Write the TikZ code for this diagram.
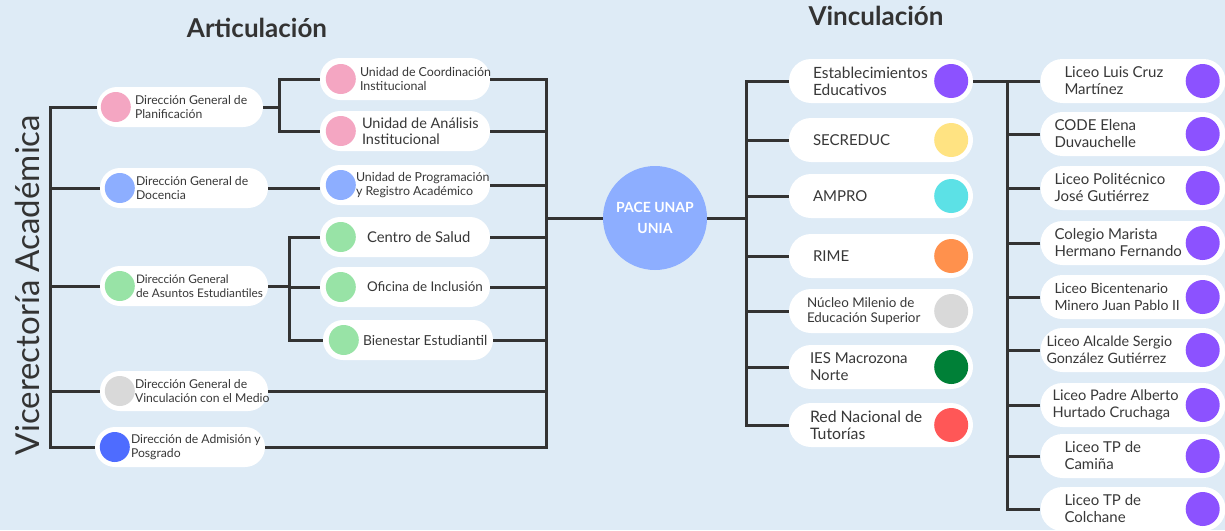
\documentclass[tikz,border=0pt]{standalone}
\usepackage{fontspec}
\setmainfont{Lato}
\usetikzlibrary{positioning}

\definecolor{bg}{HTML}{DEEBF6}
\definecolor{ink}{HTML}{333333}
\definecolor{inkt}{HTML}{383838}
\definecolor{pinkc}{HTML}{F4A6C2}
\definecolor{bluec}{HTML}{8DAEFF}
\definecolor{greenc}{HTML}{98E3A6}
\definecolor{grayc}{HTML}{D9D9D9}
\definecolor{royalc}{HTML}{4E6CFF}
\definecolor{purplec}{HTML}{8C52FF}
\definecolor{yellowc}{HTML}{FFE382}
\definecolor{cyanc}{HTML}{5CE1E6}
\definecolor{orangec}{HTML}{FF914D}
\definecolor{dgreenc}{HTML}{008037}
\definecolor{redc}{HTML}{FF5757}

\tikzset{
  pill/.style={fill=white, rounded corners=20pt, minimum width=168pt, minimum height=40pt, inner sep=0pt},
  bigpill/.style={fill=white, rounded corners=22pt, minimum width=184pt, minimum height=44pt, inner sep=0pt},
  dot/.style={circle, inner sep=0pt, minimum size=30pt},
  bigdot/.style={circle, inner sep=0pt, minimum size=34pt},
  txt/.style={anchor=west, align=left, text=inkt, inner sep=0pt, font=\fontsize{12.2}{14}\selectfont},
  bigtxt/.style={txt, font=\fontsize{15}{17}\selectfont},
  title/.style={font=\bfseries\fontsize{26}{28}\selectfont, text=ink},
  link/.style={draw=ink, line width=3pt}
}

\begin{document}
\begin{tikzpicture}[x=1pt, y=-1pt]
  \useasboundingbox (0,0) rectangle (1225,530);
  \clip (0,0) rectangle (1225,530);
  \fill[bg] (0,0) rectangle (1225,530);

  % titles
  \node[title] (arttitle) at (257,28) {Articulación};
  \node[title] (vintitle) at (876,16) {Vinculación};
  \node[rotate=90, font=\fontsize{33}{36}\selectfont, text=ink] (vicerrect) at (27,285) {Vicerectoría Académica};

  % first level (left)
  \node[pill, minimum width=166pt] (planif) at (180,107) {};
  \node[dot, fill=pinkc] (planif-dot) at ([xshift=19pt]planif.west) {};
  \node[txt] (planif-txt) at ([xshift=38pt]planif.west) {Dirección General de\\Planificación};

  \node[pill] (docencia) at (184,188) {};
  \node[dot, fill=bluec] (docencia-dot) at ([xshift=20pt]docencia.west) {};
  \node[txt] (docencia-txt) at ([xshift=36pt]docencia.west) {Dirección General de\\Docencia};

  \node[pill] (asuntos) at (184,286) {};
  \node[dot, fill=greenc] (asuntos-dot) at ([xshift=20pt]asuntos.west) {};
  \node[txt, font=\fontsize{11.8}{14}\selectfont] (asuntos-txt) at ([xshift=36pt]asuntos.west) {Dirección General\\de Asuntos Estudiantiles};

  \node[pill] (medio) at (184,391) {};
  \node[dot, fill=grayc] (medio-dot) at ([xshift=20pt]medio.west) {};
  \node[txt] (medio-txt) at ([xshift=35pt]medio.west) {Dirección General de\\Vinculación con el Medio};

  \node[pill, minimum width=170pt] (admision) at (180,447) {};
  \node[dot, fill=royalc] (admision-dot) at ([xshift=20pt]admision.west) {};
  \node[txt] (admision-txt) at ([xshift=36pt]admision.west) {Dirección de Admisión y\\Posgrado};

  % second level (left)
  \node[pill, minimum width=170pt, minimum height=42pt] (coord) at (405,79) {};
  \node[dot, fill=pinkc] (coord-dot) at ([xshift=21pt]coord.west) {};
  \node[txt, font=\fontsize{12.4}{14}\selectfont] (coord-txt) at ([xshift=40pt]coord.west) {Unidad de Coordinación\\Institucional};

  \node[pill, minimum width=170pt] (anal) at (405,131) {};
  \node[dot, fill=pinkc] (anal-dot) at ([xshift=21pt]anal.west) {};
  \node[txt, font=\fontsize{14.5}{16}\selectfont] (anal-txt) at ([xshift=42pt]anal.west) {Unidad de Análisis\\Institucional};

  \node[pill, minimum width=170pt] (prog) at (405,185) {};
  \node[dot, fill=bluec] (prog-dot) at ([xshift=21pt]prog.west) {};
  \node[txt, font=\fontsize{12.4}{14}\selectfont] (prog-txt) at ([xshift=36pt]prog.west) {Unidad de Programación\\y Registro Académico};

  \node[pill, minimum width=170pt] (salud) at (405,237) {};
  \node[dot, fill=greenc] (salud-dot) at ([xshift=21pt]salud.west) {};
  \node[txt, font=\fontsize{14.8}{16}\selectfont] (salud-txt) at ([xshift=47pt]salud.west) {Centro de Salud};

  \node[pill, minimum width=170pt] (incl) at (405,287) {};
  \node[dot, fill=greenc] (incl-dot) at ([xshift=21pt]incl.west) {};
  \node[txt, font=\fontsize{13.4}{16}\selectfont] (incl-txt) at ([xshift=47pt]incl.west) {Oficina de Inclusión};

  \node[pill, minimum width=170pt] (bien) at (408,340) {};
  \node[dot, fill=greenc] (bien-dot) at ([xshift=21pt]bien.west) {};
  \node[txt, font=\fontsize{13.8}{16}\selectfont] (bien-txt) at ([xshift=40pt]bien.west) {Bienestar Estudiantil};

  % centre
  \node[circle, fill=bluec, minimum size=104pt, inner sep=0pt, text=white, align=center,
    font=\bfseries\fontsize{14}{21}\selectfont] (pace) at (655,218) {PACE UNAP\\UNIA};

  % vinculacion
  \node[bigpill] (establ) at (881,81) {};
  \node[bigdot, fill=purplec] (establ-dot) at ([xshift=-22pt]establ.east) {};
  \node[bigtxt, font=\fontsize{15.5}{17}\selectfont] (establ-txt) at ([xshift=24pt]establ.west) {Establecimientos\\Educativos};

  \node[bigpill] (secreduc) at (881,140) {};
  \node[bigdot, fill=yellowc] (secreduc-dot) at ([xshift=-22pt]secreduc.east) {};
  \node[bigtxt] (secreduc-txt) at ([xshift=24pt]secreduc.west) {SECREDUC};

  \node[bigpill] (ampro) at (881,196) {};
  \node[bigdot, fill=cyanc] (ampro-dot) at ([xshift=-22pt]ampro.east) {};
  \node[bigtxt] (ampro-txt) at ([xshift=24pt]ampro.west) {AMPRO};

  \node[bigpill] (rime) at (881,256) {};
  \node[bigdot, fill=orangec] (rime-dot) at ([xshift=-22pt]rime.east) {};
  \node[bigtxt] (rime-txt) at ([xshift=24pt]rime.west) {RIME};

  \node[bigpill] (nucleo) at (881,311) {};
  \node[bigdot, fill=grayc] (nucleo-dot) at ([xshift=-22pt]nucleo.east) {};
  \node[txt, font=\fontsize{13.4}{15}\selectfont] (nucleo-txt) at ([xshift=18pt]nucleo.west) {Núcleo Milenio de\\Educación Superior};

  \node[bigpill] (ies) at (881,367) {};
  \node[bigdot, fill=dgreenc] (ies-dot) at ([xshift=-22pt]ies.east) {};
  \node[bigtxt] (ies-txt) at ([xshift=21pt]ies.west) {IES Macrozona\\Norte};

  \node[bigpill] (red) at (881,425) {};
  \node[bigdot, fill=redc] (red-dot) at ([xshift=-22pt]red.east) {};
  \node[bigtxt, font=\fontsize{15.8}{17}\selectfont] (red-txt) at ([xshift=21pt]red.west) {Red Nacional de\\Tutorías};

  % liceos
  \node[bigpill, minimum width=185pt] (luis) at (1133,81) {};
  \node[bigdot, fill=purplec] (luis-dot) at ([xshift=-23pt]luis.east) {};
  \node[bigtxt] (luis-txt) at ([xshift=24pt]luis.west) {Liceo Luis Cruz\\Martínez};

  \node[bigpill, minimum width=185pt] (code) at (1133,134) {};
  \node[bigdot, fill=purplec] (code-dot) at ([xshift=-23pt]code.east) {};
  \node[bigtxt] (code-txt) at ([xshift=14pt]code.west) {CODE Elena\\Duvauchelle};

  \node[bigpill, minimum width=185pt] (poli) at (1133,188) {};
  \node[bigdot, fill=purplec] (poli-dot) at ([xshift=-23pt]poli.east) {};
  \node[bigtxt] (poli-txt) at ([xshift=14pt]poli.west) {Liceo Politécnico\\José Gutiérrez};

  \node[bigpill, minimum width=185pt] (marista) at (1133,243) {};
  \node[bigdot, fill=purplec] (marista-dot) at ([xshift=-23pt]marista.east) {};
  \node[bigtxt] (marista-txt) at ([xshift=14pt]marista.west) {Colegio Marista\\Hermano Fernando};

  \node[bigpill, minimum width=185pt] (minero) at (1133,297) {};
  \node[bigdot, fill=purplec] (minero-dot) at ([xshift=-23pt]minero.east) {};
  \node[bigtxt, font=\fontsize{14}{17}\selectfont] (minero-txt) at ([xshift=14pt]minero.west) {Liceo Bicentenario\\Minero Juan Pablo II};

  \node[bigpill, minimum width=185pt] (alcalde) at (1133,350) {};
  \node[bigdot, fill=purplec] (alcalde-dot) at ([xshift=-23pt]alcalde.east) {};
  \node[bigtxt, font=\fontsize{14.3}{17}\selectfont] (alcalde-txt) at ([xshift=6pt]alcalde.west) {Liceo Alcalde Sergio\\González Gutiérrez};

  \node[bigpill, minimum width=185pt] (hurtado) at (1133,405) {};
  \node[bigdot, fill=purplec] (hurtado-dot) at ([xshift=-23pt]hurtado.east) {};
  \node[bigtxt, font=\fontsize{14.6}{17}\selectfont] (hurtado-txt) at ([xshift=12pt]hurtado.west) {Liceo Padre Alberto\\Hurtado Cruchaga};

  \node[bigpill, minimum width=185pt] (camina) at (1133,456) {};
  \node[bigdot, fill=purplec] (camina-dot) at ([xshift=-23pt]camina.east) {};
  \node[bigtxt] (camina-txt) at ([xshift=24pt]camina.west) {Liceo TP de\\Camiña};

  \node[bigpill, minimum width=185pt] (colchane) at (1133,509) {};
  \node[bigdot, fill=purplec] (colchane-dot) at ([xshift=-23pt]colchane.east) {};
  \node[bigtxt] (colchane-txt) at ([xshift=24pt]colchane.west) {Liceo TP de\\Colchane};

  % connectors
  \coordinate (ltrunk) at (50,0);
  \coordinate (pfork) at (279,0);
  \coordinate (afork) at (289,0);
  \coordinate (rtrunk) at (546,0);
  \coordinate (vtrunk) at (746,0);
  \coordinate (efork) at (1007,0);

  \draw[link] (planif.west) -- (planif.west -| ltrunk) -- (admision.west -| ltrunk) -- (admision.west);
  \draw[link] (docencia.west) -- (docencia.west -| ltrunk);
  \draw[link] (asuntos.west) -- (asuntos.west -| ltrunk);
  \draw[link] (medio.west) -- (medio.west -| ltrunk);

  \draw[link] (planif.east) -- (planif.east -| pfork);
  \draw[link] (coord.west) -- (coord.west -| pfork) -- (anal.west -| pfork) -- (anal.west);
  \draw[link] (docencia.east) -- (docencia.east -| prog.west);
  \draw[link] (asuntos.east) -- (asuntos.east -| afork);
  \draw[link] (salud.west) -- (salud.west -| afork) -- (bien.west -| afork) -- (bien.west);
  \draw[link] (incl.west) -- (incl.west -| afork);

  \draw[link] (coord.east) -- (coord.east -| rtrunk) -- (admision.east -| rtrunk) -- (admision.east);
  \draw[link] (anal.east) -- (anal.east -| rtrunk);
  \draw[link] (prog.east) -- (prog.east -| rtrunk);
  \draw[link] (salud.east) -- (salud.east -| rtrunk);
  \draw[link] (incl.east) -- (incl.east -| rtrunk);
  \draw[link] (bien.east) -- (bien.east -| rtrunk);
  \draw[link] (medio.east) -- (medio.east -| rtrunk);
  \draw[link] (pace.west -| rtrunk) -- (pace.west);

  \draw[link] (pace.east) -- (pace.east -| vtrunk);
  \draw[link] (establ.west) -- (establ.west -| vtrunk) -- (red.west -| vtrunk) -- (red.west);
  \draw[link] (secreduc.west) -- (secreduc.west -| vtrunk);
  \draw[link] (ampro.west) -- (ampro.west -| vtrunk);
  \draw[link] (rime.west) -- (rime.west -| vtrunk);
  \draw[link] (nucleo.west) -- (nucleo.west -| vtrunk);
  \draw[link] (ies.west) -- (ies.west -| vtrunk);

  \draw[link] (establ.east) -- (establ.east -| efork);
  \draw[link] (luis.west) -- (luis.west -| efork) -- (colchane.west -| efork) -- (colchane.west);
  \draw[link] (code.west) -- (code.west -| efork);
  \draw[link] (poli.west) -- (poli.west -| efork);
  \draw[link] (marista.west) -- (marista.west -| efork);
  \draw[link] (minero.west) -- (minero.west -| efork);
  \draw[link] (alcalde.west) -- (alcalde.west -| efork);
  \draw[link] (hurtado.west) -- (hurtado.west -| efork);
  \draw[link] (camina.west) -- (camina.west -| efork);
\end{tikzpicture}
\end{document}
